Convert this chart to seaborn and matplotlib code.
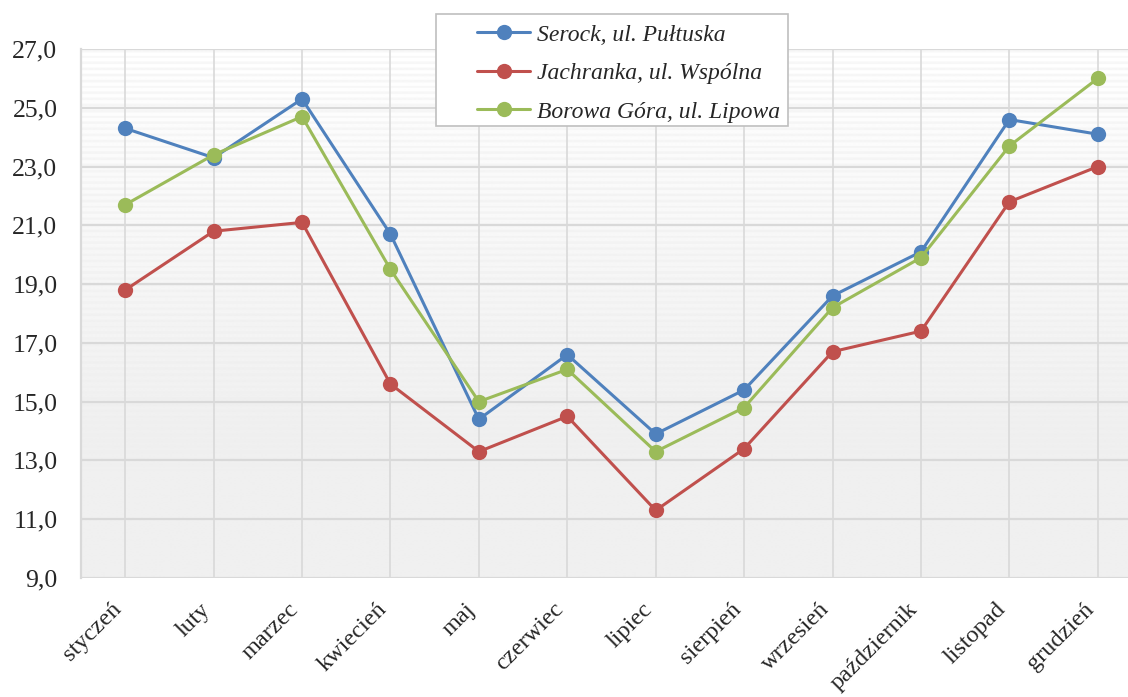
import numpy as np
import pandas as pd
import matplotlib
matplotlib.use('Agg')
import matplotlib.pyplot as plt
import matplotlib.transforms as mtransforms
from matplotlib.patches import Rectangle
import seaborn as sns

# data
months = ['styczeń', 'luty', 'marzec', 'kwiecień', 'maj', 'czerwiec',
          'lipiec', 'sierpień', 'wrzesień', 'październik', 'listopad', 'grudzień']
serock = [24.3, 23.3, 25.3, 20.7, 14.4, 16.6, 13.9, 15.4, 18.6, 20.1, 24.6, 24.1]
jachranka = [18.8, 20.8, 21.1, 15.6, 13.3, 14.5, 11.3, 13.4, 16.7, 17.4, 21.8, 23.0]
borowa = [21.7, 23.4, 24.7, 19.5, 15.0, 16.1, 13.3, 14.8, 18.2, 19.9, 23.7, 26.0]
series_names = ['Serock, ul. Pułtuska', 'Jachranka, ul. Wspólna', 'Borowa Góra, ul. Lipowa']
y_ticks = [9, 11, 13, 15, 17, 19, 21, 23, 25, 27]

colors = ['#4F81BD', '#C0504D', '#9BBB59']

df = pd.DataFrame({
    'idx': list(range(len(months))) * 3,
    'value': serock + jachranka + borowa,
    'series': [series_names[0]] * 12 + [series_names[1]] * 12 + [series_names[2]] * 12,
})

sns.set_theme(style='white')
plt.rcParams['font.family'] = ['Liberation Serif', 'DejaVu Serif']

fig = plt.figure(figsize=(11.28, 6.97), dpi=100)
ax = fig.add_axes([81/1128, 119/697, (1142-81)/1128, 529/697])

# background: light gradient with faint stripes fading downward
h = 600
t = np.linspace(0, 1, h)[:, None]  # 0 top, 1 bottom
base = 1.0 - 0.06 * np.clip(t * 1.4, 0, 1)
stripes = 0.03 * (np.sin(np.arange(h) * 2 * np.pi / 6.8)[:, None] > 0.3) * np.clip(1 - t * 1.15, 0, 1)
img = np.clip(base - stripes, 0, 1)
ax.imshow(np.repeat(img, 2, axis=1), cmap='gray', vmin=0, vmax=1, aspect='auto',
          extent=(-0.5, 11.5, 9, 27), zorder=0, interpolation='bilinear')

for v in y_ticks:
    ax.axhline(v, color='#d9d9d9', lw=1.6, zorder=1)
for i in range(len(months)):
    ax.axvline(i, color='#d9d9d9', lw=1.2, zorder=1)

sns.lineplot(data=df, x='idx', y='value', hue='series', palette=colors,
             marker='o', markersize=11, markeredgewidth=0, linewidth=2.2,
             ax=ax, zorder=3)

ax.set_xlim(-0.5, 11.5)
ax.set_ylim(9, 27)
ax.set_yticks(y_ticks)
ax.set_yticklabels([f'{v:.1f}'.replace('.', ',') for v in y_ticks], fontsize=18.5)
ax.set_xticks(range(len(months)))
ax.set_xticklabels(months, rotation=45, ha='right', rotation_mode='anchor', fontsize=17.5)
ax.tick_params(axis='x', pad=15, length=0)
ax.tick_params(axis='y', pad=17, length=0)
shift = mtransforms.ScaledTranslation(-14/100, 0, fig.dpi_scale_trans)
for lbl in ax.get_xticklabels():
    lbl.set_transform(lbl.get_transform() + shift)
ax.set_xlabel('')
ax.set_ylabel('')
for s in ['top', 'right', 'bottom']:
    ax.spines[s].set_visible(False)
ax.spines['left'].set_color('#d9d9d9')
ax.spines['left'].set_linewidth(1.6)

# legend box drawn separately so the padding matches
ax.add_patch(Rectangle((436/1128, 1 - 126/697), 352/1128, 112/697,
                       transform=fig.transFigure, facecolor='white', clip_on=False,
                       edgecolor='#bfbfbf', linewidth=1.2, zorder=5))
leg = ax.legend(loc='upper left', bbox_to_anchor=(477/1128, 1 - 24/697),
                bbox_transform=fig.transFigure, frameon=False,
                borderpad=0, borderaxespad=0,
                handlelength=2.25, handletextpad=0.3, labelspacing=0.72,
                prop={'family': 'Liberation Serif', 'style': 'italic', 'size': 17})
leg.set_zorder(6)

fig.savefig('out.png', dpi=100)
